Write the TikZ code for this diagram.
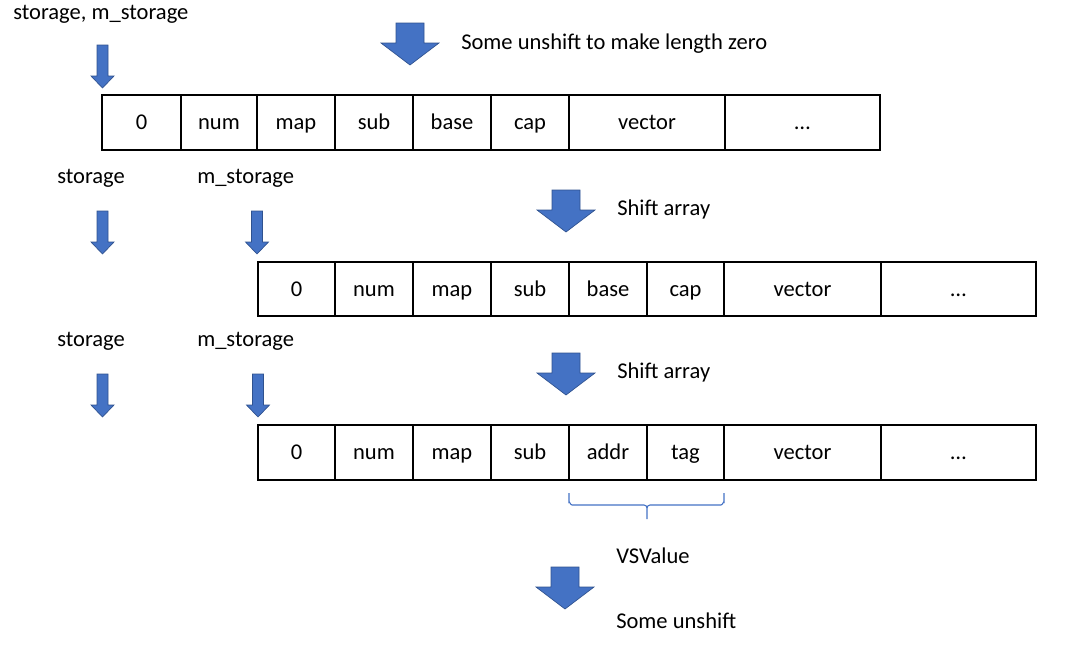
\documentclass[tikz,border=0pt]{standalone}
\usepackage{fontspec}
\setmainfont{Carlito}
\definecolor{ablue}{HTML}{4472C4}
\definecolor{aedge}{HTML}{2F528F}
\begin{document}
\begin{tikzpicture}[x=0.75pt,y=-0.75pt,
  font=\fontsize{16.9}{20}\selectfont,
  cell/.style={draw, line width=1pt, inner sep=0pt, outer sep=0pt, minimum height=55*0.75pt,
     text height=14.2pt, text depth=3pt},
  cw/.style={minimum width=#1*0.75pt},
  lbl/.style={anchor=base west, inner sep=0pt},
  thickln/.style={line width=1.7pt},
  brace/.style={draw=ablue, line width=0.8pt},
  smallarrow/.pic={\filldraw[fill=ablue, draw=aedge, line width=0.5pt]
     (-5.5,0) -- (5.5,0) -- (5.5,31) -- (11.5,31) -- (0,43) -- (-11.5,31) -- (-5.5,31) -- cycle;},
  bigarrow/.pic={\filldraw[fill=ablue, draw=aedge, line width=0.5pt]
     (-14,0) -- (14,0) -- (14,20) -- (29,20) -- (0,42) -- (-29,20) -- (-14,20) -- cycle;}
]
\useasboundingbox (0,0) rectangle (1086,662);

% labels
\node[lbl] (t1) at (13,19) {storage, m\_storage};
\node[lbl] (t2) at (461,49) {Some unshift to make length zero};
\node[lbl] (t3) at (57,183) {storage};
\node[lbl] (t4) at (197,183) {m\_storage};
\node[lbl] (t5) at (617,215) {Shift array};
\node[lbl] (t6) at (57,346) {storage};
\node[lbl] (t7) at (197,346) {m\_storage};
\node[lbl] (t8) at (617,378) {Shift array};
\node[lbl] (t9) at (616,563) {VSValue};
\node[lbl] (t10) at (616,628) {Some unshift};

% arrows
\pic at (102.5,45) {smallarrow};
\pic at (102.5,211) {smallarrow};
\pic at (257,211) {smallarrow};
\pic at (102.5,374) {smallarrow};
\pic at (258,374) {smallarrow};
\pic at (410,23) {bigarrow};
\pic at (566,190) {bigarrow};
\pic at (566,353) {bigarrow};
\pic at (565,567) {bigarrow};

% row 1
\node[cell,cw=79] (r1a) at (141.5,122.5) {0};
\node[cell,cw=76] (r1b) at (219,122.5) {num};
\node[cell,cw=78] (r1c) at (296,122.5) {map};
\node[cell,cw=78] (r1d) at (374,122.5) {sub};
\node[cell,cw=78] (r1e) at (452,122.5) {base};
\node[cell,cw=78] (r1f) at (530,122.5) {cap};
\node[cell,cw=156] (r1g) at (647,122.5) {vector};
\node[cell,cw=155] (r1h) at (802.5,122.5) {…};
\draw[thickln] (r1g.north east) -- (r1g.south east);

% row 2
\node[cell,cw=77,minimum height=54*0.75pt] (r2a) at (296.5,289) {0};
\node[cell,cw=78,minimum height=54*0.75pt] (r2b) at (374,289) {num};
\node[cell,cw=78,minimum height=54*0.75pt] (r2c) at (452,289) {map};
\node[cell,cw=78,minimum height=54*0.75pt] (r2d) at (530,289) {sub};
\node[cell,cw=78,minimum height=54*0.75pt] (r2e) at (608,289) {base};
\node[cell,cw=77,minimum height=54*0.75pt] (r2f) at (685.5,289) {cap};
\node[cell,cw=157,minimum height=54*0.75pt] (r2g) at (802.5,289) {vector};
\node[cell,cw=155,minimum height=54*0.75pt] (r2h) at (958.5,289) {…};
\draw[thickln] (r2g.north east) -- (r2g.south east);

% row 3
\node[cell,cw=77] (r3a) at (296.5,452.5) {0};
\node[cell,cw=78] (r3b) at (374,452.5) {num};
\node[cell,cw=78] (r3c) at (452,452.5) {map};
\node[cell,cw=78] (r3d) at (530,452.5) {sub};
\node[cell,cw=78] (r3e) at (608,452.5) {addr};
\node[cell,cw=77] (r3f) at (685.5,452.5) {tag};
\node[cell,cw=157] (r3g) at (802.5,452.5) {vector};
\node[cell,cw=155] (r3h) at (958.5,452.5) {…};
\draw[thickln] (r3g.north east) -- (r3g.south east);
\draw[thickln] (r3d.north east) -- (r3d.south east);

% brace under addr/tag
\coordinate (bl) at (569,493);
\coordinate (br) at (724,493);
\coordinate (bt) at (647,519);
\draw[brace] (bl) -- (569,502) to[out=90,in=180] (572,505) -- (644,505)
  to[out=0,in=90] (647,508) -- (bt);
\draw[brace] (br) -- (724,502) to[out=90,in=0] (721,505) -- (650,505)
  to[out=180,in=90] (647,508);
\end{tikzpicture}
\end{document}
